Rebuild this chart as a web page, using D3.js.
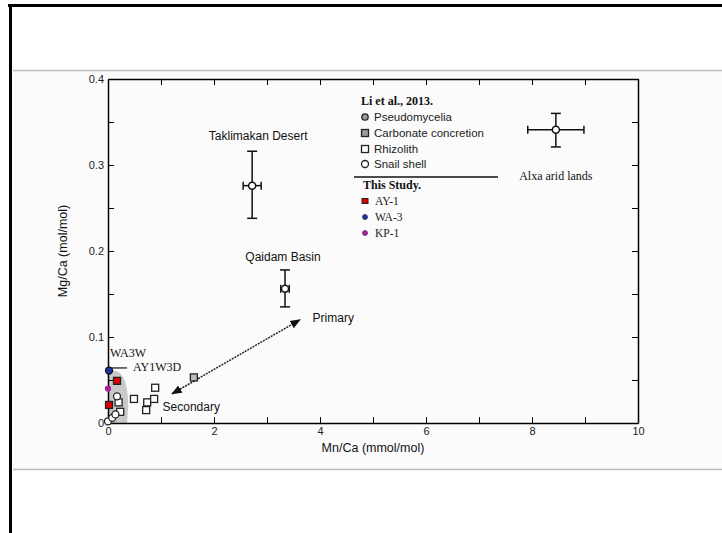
<!DOCTYPE html>
<html><head><meta charset="utf-8">
<script src="https://cdn.jsdelivr.net/npm/d3@7/dist/d3.min.js"></script>
<style>html,body{margin:0;padding:0;background:#fff;}svg{display:block;}</style>
</head><body>
<script>
// ---- data ----
const xTicks = [0,1,2,3,4,5,6,7,8,9,10];
const xTickLabels = ["0","","2","","4","","6","","8","","10"];
const yTicks = [0,0.05,0.1,0.15,0.2,0.25,0.3,0.35,0.4];
const yTickLabels = ["0","","0.1","","0.2","","0.3","","0.4"];
// regional averages with error bars: name, x, y, xerr, yerrLow, yerrHigh
const regionNames = ["Taklimakan Desert","Qaidam Basin","Alxa arid lands"];
const regionX = [2.72, 3.34, 8.45];
const regionY = [0.276, 0.156, 0.341];
const regionXErr = [0.17, 0.08, 0.53];
const regionYLow = [0.238, 0.135, 0.321];
const regionYHigh = [0.316, 0.178, 0.36];
// Li et al. 2013 samples
const rhizolithX = [0.89, 0.49, 0.74, 0.87, 0.72, 0.23, 0.2];
const rhizolithY = [0.041, 0.028, 0.024, 0.028, 0.015, 0.013, 0.024];
const concretionX = [1.62];
const concretionY = [0.053];
const snailX = [0.0, 0.08, 0.14, 0.17];
const snailY = [0.002, 0.006, 0.01, 0.031];
// this study
const ay1X = [0.17, 0.02];
const ay1Y = [0.049, 0.021];
const wa3X = [0.02];
const wa3Y = [0.061];
const kp1X = [0.0];
const kp1Y = [0.04];
// arrow (secondary -> primary)
const arrowX = [1.21, 3.62];
const arrowY = [0.034, 0.12];
const legendLi = ["Pseudomycelia","Carbonate concretion","Rhizolith","Snail shell"];
const legendThis = ["AY-1","WA-3","KP-1"];

const W = 722, H = 533;
const svg = d3.select("body").append("svg").attr("width", W).attr("height", H);
// page frame
svg.append("rect").attr("x",13).attr("y",70).attr("width",W-13).attr("height",399).attr("fill","#fbfbfb");
svg.append("line").attr("x1",13).attr("x2",W).attr("y1",70.5).attr("y2",70.5).attr("stroke","#bbb").attr("stroke-width",1.5);
svg.append("line").attr("x1",13).attr("x2",W).attr("y1",469.5).attr("y2",469.5).attr("stroke","#bbb").attr("stroke-width",1.5);
svg.append("line").attr("x1",8).attr("x2",W).attr("y1",5.5).attr("y2",5.5).attr("stroke","#000").attr("stroke-width",3);
svg.append("line").attr("x1",10.5).attr("x2",10.5).attr("y1",4).attr("y2",H).attr("stroke","#000").attr("stroke-width",3);

const x = d3.scaleLinear().domain([0,10]).range([108,638]);
const y = d3.scaleLinear().domain([0,0.4]).range([423,79]);
const tickFont = "Liberation Sans, Arial, sans-serif";
const serif = "Liberation Serif, Times New Roman, serif";

// shaded field near origin
const shade = d3.path();
shade.moveTo(x(0), y(0));
shade.lineTo(x(0), y(0.06));
shade.bezierCurveTo(x(0.25), y(0.065), x(0.38), y(0.05), x(0.38), y(0.02));
shade.lineTo(x(0.36), y(0));
shade.closePath();
svg.append("path").attr("d", shade.toString()).attr("fill","#c9c9c9");

// axes
function styleAxis(g){ g.selectAll("path").attr("stroke","#000").attr("stroke-width",1.5);
  g.selectAll("line").attr("stroke","#000").attr("stroke-width",1);
  g.selectAll("text").attr("font-family",tickFont).attr("font-size",11).attr("fill","#222"); }
svg.append("g").attr("transform",`translate(0,${y(0)})`)
  .call(d3.axisBottom(x).tickValues(xTicks).tickSizeInner(-6).tickSizeOuter(0).tickPadding(4).tickFormat((d,i)=>xTickLabels[i]))
  .call(styleAxis);
svg.append("g").attr("transform",`translate(0,${y(0.4)})`)
  .call(d3.axisTop(x).tickValues(xTicks).tickSizeInner(-6).tickSizeOuter(0).tickFormat(""))
  .call(styleAxis);
svg.append("g").attr("transform",`translate(${x(0)},0)`)
  .call(d3.axisLeft(y).tickValues(yTicks).tickSizeInner(-6).tickSizeOuter(0).tickPadding(4).tickFormat((d,i)=>yTickLabels[i]))
  .call(styleAxis);
svg.append("g").attr("transform",`translate(${x(10)},0)`)
  .call(d3.axisRight(y).tickValues(yTicks).tickSizeInner(-6).tickSizeOuter(0).tickFormat(""))
  .call(styleAxis);

// axis titles
svg.append("text").attr("x",(x(0)+x(10))/2).attr("y",452).attr("text-anchor","middle")
  .attr("font-family",tickFont).attr("font-size",12.5).attr("fill","#111").text("Mn/Ca (mmol/mol)");
svg.append("text").attr("transform",`translate(67,${y(0.2)}) rotate(-90)`).attr("text-anchor","middle")
  .attr("font-family",tickFont).attr("font-size",12.5).attr("fill","#111").text("Mg/Ca (mol/mol)");

// arrow
const defs = svg.append("defs");
defs.append("marker").attr("id","ah").attr("viewBox","0 0 10 10").attr("refX",9).attr("refY",5)
  .attr("markerWidth",7).attr("markerHeight",7).attr("orient","auto-start-reverse")
  .append("path").attr("d","M0,1 L10,5 L0,9 Z").attr("fill","#111");
svg.append("line").attr("x1",x(arrowX[0])).attr("y1",y(arrowY[0])).attr("x2",x(arrowX[1])).attr("y2",y(arrowY[1]))
  .attr("stroke","#222").attr("stroke-width",1.5).attr("stroke-dasharray","2,1")
  .attr("marker-start","url(#ah)").attr("marker-end","url(#ah)");
svg.append("text").attr("x",x(3.86)).attr("y",y(0.118)).attr("font-family",tickFont).attr("font-size",12).attr("fill","#111").text("Primary");
svg.append("text").attr("x",x(1.03)).attr("y",y(0.014)).attr("font-family",tickFont).attr("font-size",12).attr("fill","#111").text("Secondary");

// regional error bars
regionNames.forEach((n,i)=>{
  const g = svg.append("g").attr("stroke","#111").attr("stroke-width",1.5).attr("fill","none");
  const cx = x(regionX[i]), cy = y(regionY[i]);
  const x1 = x(regionX[i]-regionXErr[i]), x2 = x(regionX[i]+regionXErr[i]);
  const y1 = y(regionYHigh[i]), y2 = y(regionYLow[i]);
  g.append("line").attr("x1",x1).attr("x2",x2).attr("y1",cy).attr("y2",cy);
  g.append("line").attr("x1",x1).attr("x2",x1).attr("y1",cy-4).attr("y2",cy+4);
  g.append("line").attr("x1",x2).attr("x2",x2).attr("y1",cy-4).attr("y2",cy+4);
  g.append("line").attr("x1",cx).attr("x2",cx).attr("y1",y1).attr("y2",y2);
  g.append("line").attr("x1",cx-5).attr("x2",cx+5).attr("y1",y1).attr("y2",y1);
  g.append("line").attr("x1",cx-5).attr("x2",cx+5).attr("y1",y2).attr("y2",y2);
  g.append("circle").attr("cx",cx).attr("cy",cy).attr("r",3.5).attr("fill","#fff");
});
svg.append("text").attr("x",x(regionX[0])+6).attr("y",y(0.329)).attr("text-anchor","middle")
  .attr("font-family",tickFont).attr("font-size",12).attr("fill","#111").text(regionNames[0]);
svg.append("text").attr("x",x(regionX[1])-2).attr("y",y(0.188)).attr("text-anchor","middle")
  .attr("font-family",tickFont).attr("font-size",12).attr("fill","#111").text(regionNames[1]);
svg.append("text").attr("x",x(regionX[2])).attr("y",y(0.283)).attr("text-anchor","middle")
  .attr("font-family",serif).attr("font-size",12).attr("fill","#111").text(regionNames[2]);

// samples
function squares(xs, ys, fill, stroke, s){
  svg.append("g").selectAll("rect").data(xs).join("rect")
    .attr("x",(d)=>x(d)-s/2).attr("y",(d,i)=>y(ys[i])-s/2).attr("width",s).attr("height",s)
    .attr("fill",fill).attr("stroke",stroke).attr("stroke-width",1.3);
}
function circles(xs, ys, fill, stroke, r){
  svg.append("g").selectAll("circle").data(xs).join("circle")
    .attr("cx",(d)=>x(d)).attr("cy",(d,i)=>y(ys[i])).attr("r",r)
    .attr("fill",fill).attr("stroke",stroke).attr("stroke-width",1.3);
}
squares(rhizolithX, rhizolithY, "#fff", "#222", 7);
squares(concretionX, concretionY, "#bbb", "#222", 7);
circles(snailX, snailY, "#fff", "#222", 3.5);
squares(ay1X, ay1Y, "#d00", "#222", 7);
circles(wa3X, wa3Y, "#2233aa", "#111", 3.5);
circles(kp1X, kp1Y, "#aa2299", "#aa2299", 2.5);

// point annotations
svg.append("text").attr("x",x(0.04)).attr("y",y(0.077)).attr("font-family",serif).attr("font-size",12).attr("fill","#111").text("WA3W");
svg.append("line").attr("x1",x(0.08)).attr("x2",x(0.36)).attr("y1",y(0.064)).attr("y2",y(0.064)).attr("stroke","#111").attr("stroke-width",1.2);
svg.append("text").attr("x",x(0.47)).attr("y",y(0.06)).attr("font-family",serif).attr("font-size",12).attr("fill","#111").text("AY1W3D");

// legend
const lx = 365;
svg.append("text").attr("x",361).attr("y",105).attr("font-family",serif).attr("font-weight","bold").attr("font-size",12).attr("fill","#111").text("Li et al., 2013.");
const liY = [117,133,149,164];
const liMark = [
  g=>g.append("circle").attr("r",3.2).attr("fill","#999").attr("stroke","#222").attr("stroke-width",1.3),
  g=>g.append("rect").attr("x",-3.5).attr("y",-3.5).attr("width",7).attr("height",7).attr("fill","#999").attr("stroke","#222").attr("stroke-width",1.3),
  g=>g.append("rect").attr("x",-3.5).attr("y",-3.5).attr("width",7).attr("height",7).attr("fill","#fff").attr("stroke","#222").attr("stroke-width",1.3),
  g=>g.append("circle").attr("r",3.5).attr("fill","#fff").attr("stroke","#222").attr("stroke-width",1.3)
];
legendLi.forEach((t,i)=>{
  const g = svg.append("g").attr("transform",`translate(${lx},${liY[i]})`);
  liMark[i](g);
  svg.append("text").attr("x",lx+9).attr("y",liY[i]+4).attr("font-family",tickFont).attr("font-size",11.5).attr("fill","#222").text(t);
});
svg.append("line").attr("x1",354).attr("x2",498).attr("y1",177).attr("y2",177).attr("stroke","#111").attr("stroke-width",1.5);
svg.append("text").attr("x",363).attr("y",189).attr("font-family",serif).attr("font-weight","bold").attr("font-size",12).attr("fill","#111").text("This Study.");
const thY = [201,217,233];
const thMark = [
  g=>g.append("rect").attr("x",-3).attr("y",-2.5).attr("width",6).attr("height",5).attr("fill","#d00").attr("stroke","#222").attr("stroke-width",1),
  g=>g.append("circle").attr("r",2.5).attr("fill","#2233aa").attr("stroke","#333").attr("stroke-width",0.8),
  g=>g.append("circle").attr("r",2.5).attr("fill","#aa2299").attr("stroke","#663366").attr("stroke-width",0.8)
];
legendThis.forEach((t,i)=>{
  const g = svg.append("g").attr("transform",`translate(${lx},${thY[i]})`);
  thMark[i](g);
  svg.append("text").attr("x",lx+10).attr("y",thY[i]+4).attr("font-family",serif).attr("font-size",11.5).attr("fill","#222").text(t);
});
</script>
</body></html>
